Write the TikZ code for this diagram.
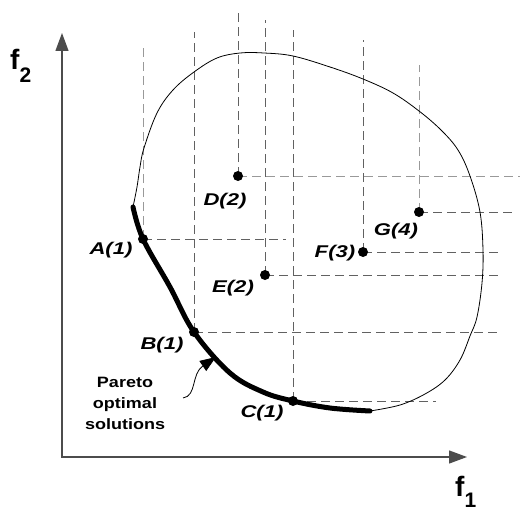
\documentclass[tikz,border=0pt]{standalone}
\usepackage{fontspec}
\setmainfont{Liberation Sans}
\newfontfamily\lblfont[FakeStretch=1.3]{Liberation Sans}
\newfontfamily\notefont[FakeStretch=1.2]{Liberation Sans}
\usetikzlibrary{
    arrows.meta,
    positioning,
    backgrounds
}
\tikzset{
  dot/.style    = {circle, fill=black, inner sep=0pt, minimum size=10pt},
  lbl/.style    = {inner sep=0pt, font=\lblfont\bfseries\itshape\fontsize{17}{17}\selectfont},
  note/.style   = {inner sep=0pt, align=center,
                   font=\notefont\bfseries\fontsize{15}{21}\selectfont},
  axlbl/.style  = {inner sep=0pt, anchor=base west, font=\bfseries\fontsize{28}{28}\selectfont},
  proj/.style   = {dash pattern=on 9pt off 5pt, black!62, line width=0.9pt},
  projl/.style  = {proj, black!40},
  axis/.style   = {{Triangle[length=18pt,width=13pt]}-{Triangle[length=18pt,width=13pt]},
                   black!70, line width=1.3pt},
  region/.style = {line width=0.8pt},
  front/.style  = {line width=5pt, line cap=round},
  pointer/.style= {-{Triangle[length=16pt,width=12pt]}, line width=0.8pt}
}

\begin{document}
\begin{tikzpicture}[x=1pt, y=-1pt]
  \useasboundingbox (0,0) rectangle (520,511);

  % axes
  \coordinate (O) at (62,457);
  \coordinate (ytip) at (62,33);
  \coordinate (xtip) at (467,457);
  \draw[axis] (ytip) -- (O) -- (xtip);
  \node[axlbl] (f2) at (10,70) {f\raisebox{-13pt}{\fontsize{21}{21}\selectfont 2}};
  \node[axlbl] (f1) at (455,496) {f\raisebox{-11pt}{\fontsize{21}{21}\selectfont 1}};

  % solutions
  \node[dot] (A) at (143,239) {};
  \node[dot] (B) at (194,332) {};
  \node[dot] (C) at (293,401) {};
  \node[dot] (D) at (238,176) {};
  \node[dot] (E) at (265,275) {};
  \node[dot] (F) at (363,252) {};
  \node[dot] (G) at (419,212) {};

  \node[lbl] (Alab) at (111,250) {A(1)};
  \node[lbl] (Blab) at (162,345) {B(1)};
  \node[lbl] (Clab) at (262,413) {C(1)};
  \node[lbl] (Dlab) at (225,201) {D(2)};
  \node[lbl] (Elab) at (233,288) {E(2)};
  \node[lbl] (Flab) at (335,253) {F(3)};
  \node[lbl] (Glab) at (396,231) {G(4)};

  % projection lines
  \coordinate (Atop) at (143,47);  \coordinate (Aend) at (286,239);
  \coordinate (Btop) at (194,32);  \coordinate (Bend) at (498,332);
  \coordinate (Ctop) at (293,30);  \coordinate (Cend) at (436,401);
  \coordinate (Dtop) at (238,12);  \coordinate (Dend) at (520,176);
  \coordinate (Etop) at (265,20);  \coordinate (Eend) at (500,275);
  \coordinate (Ftop) at (363,40);  \coordinate (Fend) at (502,252);
  \coordinate (Gtop) at (419,65);  \coordinate (Gend) at (515,212);
  \begin{scope}[on background layer]
    \draw[projl] (A.center) -- (Atop);
    \draw[proj]  (A.center) -- (Aend);
    \draw[proj]  (B.center) -- (Btop);
    \draw[proj]  (B.center) -- (Bend);
    \draw[proj]  (C.center) -- (Ctop);
    \draw[proj]  (C.center) -- (Cend);
    \draw[proj]  (D.center) -- (Dtop);
    \draw[projl] (D.center) -- (Dend);
    \draw[proj]  (E.center) -- (Etop);
    \draw[proj]  (E.center) -- (Eend);
    \draw[proj]  (F.center) -- (Ftop);
    \draw[proj]  (F.center) -- (Fend);
    \draw[projl] (G.center) -- (Gtop);
    \draw[proj]  (G.center) -- (Gend);
  \end{scope}

  % feasible region and Pareto front
  \coordinate (frontbeg) at (133,207);
  \coordinate (frontend) at (370,411);
  \draw[region] plot[smooth, tension=0.6] coordinates {
    (frontbeg) (137,187) (140,167) (144,148) (157,113) (173,90) (194,72)
    (217,58) (240,53) (264,53) (293,56) (330,67) (363,79) (393,93)
    (419,111) (441,130) (458,150) (470,176) (480,212) (483,250)
    (482,283) (477,317) (470,336) (460,360) (445,380) (425,394)
    (400,405) (frontend)};
  \draw[front] plot[smooth, tension=0.6] coordinates {
    (frontbeg) (A) (170,287) (B) (230,373) (263,392) (C) (330,408) (frontend)};

  % annotation
  \node[note] (pareto) at (125,403) {Pareto\\optimal\\solutions};
  \coordinate (tail) at (183,398);
  \coordinate (tip) at (216,357);
  \draw[pointer] (tail) .. controls (197,396) and (191,374) .. (tip);
\end{tikzpicture}
\end{document}
